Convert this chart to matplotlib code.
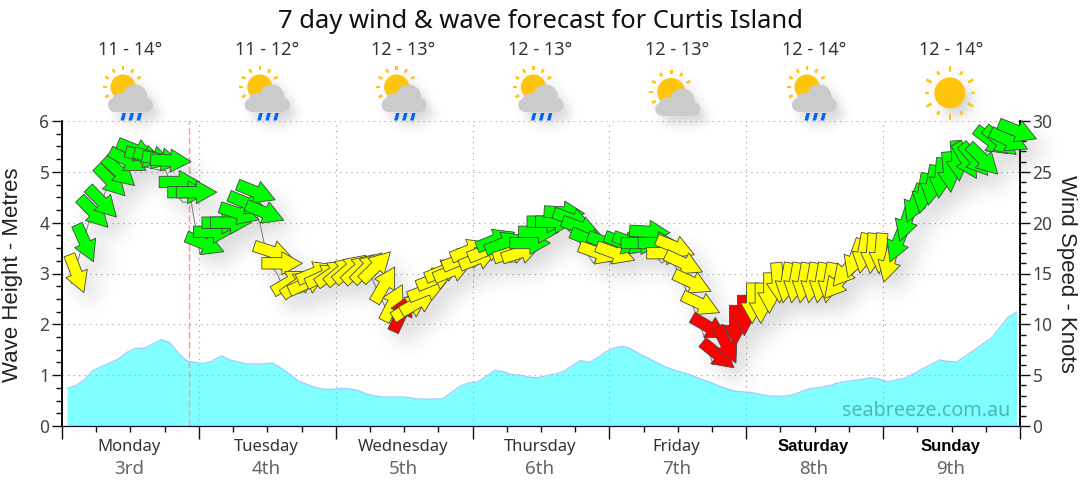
import numpy as np
import matplotlib
matplotlib.use('Agg')
import matplotlib.pyplot as plt
from matplotlib.collections import PathCollection, PatchCollection
from matplotlib.patches import Circle, Polygon, Rectangle
from matplotlib.path import Path
from matplotlib.ticker import MultipleLocator, NullFormatter
from matplotlib.transforms import Affine2D, IdentityTransform, blended_transform_factory

title = '7 day wind & wave forecast for Curtis Island'
days = ['Monday', 'Tuesday', 'Wednesday', 'Thursday', 'Friday', 'Saturday', 'Sunday']
dates = ['3rd', '4th', '5th', '6th', '7th', '8th', '9th']
temps = ['11 - 14°', '11 - 12°', '12 - 13°', '12 - 13°', '12 - 13°', '12 - 14°', '12 - 14°']
icons = ['rain', 'rain', 'rain', 'rain', 'cloud', 'rain', 'sun']
now_hour = 22.2

# wave height in metres, every 1.5 hours
wave_start = 0.9
wave = [0.74, 0.79, 0.91, 1.09, 1.17, 1.24, 1.32, 1.45, 1.53, 1.53, 1.61, 1.70, 1.64, 1.43, 1.28, 1.25,
        1.23, 1.28, 1.38, 1.30, 1.26, 1.22, 1.22, 1.22, 1.24, 1.14, 1.02, 0.89, 0.82, 0.76, 0.72, 0.72,
        0.74, 0.73, 0.70, 0.63, 0.59, 0.57, 0.57, 0.57, 0.56, 0.53, 0.53, 0.53, 0.54, 0.67, 0.79, 0.85,
        0.87, 0.98, 1.09, 1.07, 1.01, 1.00, 0.96, 0.95, 0.99, 1.02, 1.07, 1.18, 1.29, 1.25, 1.34, 1.46,
        1.54, 1.57, 1.51, 1.41, 1.33, 1.24, 1.16, 1.10, 1.05, 1.00, 0.93, 0.87, 0.80, 0.74, 0.69, 0.67,
        0.66, 0.62, 0.59, 0.585, 0.59, 0.62, 0.69, 0.74, 0.76, 0.79, 0.84, 0.875, 0.90, 0.92, 0.95, 0.92,
        0.87, 0.91, 0.94, 1.03, 1.125, 1.21, 1.30, 1.27, 1.26, 1.37, 1.49, 1.61, 1.72, 1.93, 2.14, 2.24]

# wind speed in knots, every 1.5 hours
wind_start = 2.55
wind = [15.0, 18.0, 21.0, 22.0, 24.1, 25.0, 26.1, 27.1, 26.5, 26.4, 26.2, 26.1, 24.0, 23.0, 23.0, 17.9,
        19.1, 20.0, 20.0, 20.9, 21.9, 23.0, 21.0, 17.1, 16.0, 14.2, 14.0, 14.1, 15.1, 14.8, 15.1, 15.3,
        15.5, 15.5, 15.6, 15.7, 13.9, 12.1, 11.1, 11.7, 12.2, 13.4, 14.5, 15.3, 15.3, 16.4, 17.3, 16.5,
        17.3, 18.3, 18.0, 17.1, 17.1, 18.0, 19.1, 20.1, 20.1, 21.0, 20.3, 19.5, 18.3, 17.0, 18.0, 17.0,
        18.0, 18.0, 18.0, 19.1, 18.0, 17.0, 17.6, 16.0, 14.1, 12.0, 9.7, 7.0, 8.0, 9.9, 10.9, 12.1,
        12.1, 13.1, 14.1, 14.1, 14.1, 14.1, 14.1, 14.1, 14.1, 14.1, 15.3, 16.5, 17.0, 17.0, 17.0, 16.1,
        18.0, 20.1, 21.9, 22.9, 23.7, 24.4, 25.0, 26.1, 26.1, 26.2, 26.2, 28.0, 28.0, 28.1, 29.0]

# arrow heading on screen in degrees, 0 points right, 90 points up
heading = [-69, -66, -46, -46, -46, -42, -28, -22, -15, -15, -10, -3, 0, 0, 0, -22,
           0, 0, 0, -18, -22, -22, -22, -18, 0, 30, 35, 25, 22, 25, 35, 40,
           40, 42, 45, 45, 60, 63, 65, 32, 30, 22, 22, 22, 22, 22, 22, 22,
           22, 22, 22, 18, 18, 0, 0, 0, 0, -3, -20, -20, -22, -20, -20, -20,
           -20, -20, 0, -3, 0, 0, -22, -25, -25, -25, -30, -39, -63, -90, -88, -90,
           -90, -90, -85, -100, -100, -100, -100, -100, -100, -130, -130, -110, -100, -95, -95, -105,
           -112, -108, -112, -100, -100, -95, -85, -85, -60, -50, -45, -37, -40, -25, -22]

# Y yellow, G green, R red
strength = ('YGGGGGGGGGGGGGGGGGGGGGG' 'YYYYYYYYYYYYYYY' 'R' 'YYYYYYYYYY' 'GG' 'YY' 'GGGGGGGG'
            'Y' 'G' 'Y' 'GGGGG' 'YYYYY' 'RRRRR' 'YYYYYYYYYYYYYYYYY' 'GGGGGGGGGGGGGGG')
arrow_colors = {'Y': '#ffff00', 'G': '#00ff00', 'R': '#ff0000'}


def soft_shadow(strength_alpha, sigma):
    # agg filter: keep only the blurred alpha of whatever was drawn
    radius = int(3 * sigma)
    steps = np.arange(-radius, radius + 1)
    weights = np.exp(-steps ** 2 / (2.0 * sigma ** 2))
    weights = weights / weights.sum()

    def run(im, dpi):
        alpha = np.pad(im[:, :, 3], radius)
        for axis in (0, 1):
            alpha = sum(w * np.roll(alpha, s, axis) for s, w in zip(steps, weights))
        out = np.zeros(alpha.shape + (4,))
        out[:, :, :3] = 0.25
        out[:, :, 3] = np.clip(alpha * strength_alpha, 0, 1)
        return out, -radius, -radius
    return run


plt.rcParams['font.family'] = ['Noto Sans', 'DejaVu Sans']

fig = plt.figure(figsize=(10.8, 4.9), dpi=100)
ov = fig.add_axes([0, 0, 1, 1])
ov.set_xlim(0, 1080)
ov.set_ylim(490, 0)
ov.axis('off')

ax = fig.add_axes([62 / 1080, 1 - 426 / 490, 958 / 1080, 305 / 490])
ax.patch.set_alpha(0)
ax.set_xlim(0, 168)
ax.set_ylim(0, 6)
ax2 = ax.twinx()
ax2.set_ylim(0, 30)

# waves
wave_hours = wave_start + 1.5 * np.arange(len(wave))
ax.fill_between(wave_hours, wave, color='#00ffff', alpha=0.5, lw=0, zorder=1)
ax.plot(wave_hours, wave, color='#99ccff', lw=0.9, zorder=2)

# grid and axes
ax.set_xticks(np.arange(0, 169, 24))
ax.xaxis.set_minor_locator(MultipleLocator(6))
ax.xaxis.set_major_formatter(NullFormatter())
ax.yaxis.set_major_locator(MultipleLocator(1))
ax.yaxis.set_minor_locator(MultipleLocator(0.25))
ax2.yaxis.set_major_locator(MultipleLocator(5))
ax2.yaxis.set_minor_locator(MultipleLocator(1))
ax.grid(True, which='major', color='#999999', lw=0.8, ls=(0, (1, 4)), zorder=0)
ax.set_axisbelow(True)
ax.tick_params(axis='x', which='major', length=9, width=1, color='#111111', labelbottom=False)
ax.tick_params(axis='x', which='minor', length=4, width=1, color='#111111')
for a in (ax, ax2):
    a.tick_params(axis='y', which='major', length=7, width=1, color='#111111', labelsize=12.5,
                  labelcolor='#444444', pad=2)
    a.tick_params(axis='y', which='minor', length=4, width=1, color='#111111')
    a.spines['top'].set_visible(False)
    a.spines['bottom'].set_color('#000033')
    a.spines['left'].set_linewidth(1.1)
    a.spines['right'].set_linewidth(1.1)
ax.axvline(now_hour, color='#ff9999', lw=1, ls=(0, (5, 2)), zorder=2)

# wind arrows, fixed size in pixels and rotated one by one
arrow = Path([(-20, -5.7), (0, -5.7), (0, -11.5), (20.5, 0), (0, 11.5), (0, 5.7), (-20, 5.7), (-20, -5.7)],
             closed=True)
wind_hours = wind_start + 1.5 * np.arange(len(wind))
points = np.column_stack([wind_hours, wind])
paths = [Affine2D().rotate_deg(h).transform_path(arrow) for h in heading]
faces = [arrow_colors[s] for s in strength]

shadow = PathCollection(paths, offsets=points, offset_transform=ax2.transData + Affine2D().translate(10, -12),
                        facecolors='#000000', edgecolors='none')
shadow.set_transform(IdentityTransform())
shadow.set_agg_filter(soft_shadow(0.45, 7))
ax2.add_collection(shadow, autolim=False)
shadow.set_clip_on(False)
shadow.set_zorder(3)

ax2.plot(wind_hours, wind, color='#777777', lw=0.7, zorder=4, clip_on=False,
         transform=ax2.transData + Affine2D().translate(-5, -10))

arrows = PathCollection(paths, offsets=points, offset_transform=ax2.transData,
                        facecolors=faces, edgecolors='#444444', linewidths=0.6)
arrows.set_transform(IdentityTransform())
ax2.add_collection(arrows, autolim=False)
arrows.set_clip_on(False)
arrows.set_zorder(5)


# weather icons in pixel coordinates of the overlay
def ray(cx, cy, angle, r0, r1, half):
    a = np.radians(angle)
    ux, uy = np.cos(a), -np.sin(a)
    nx, ny = -uy * half, ux * half
    return Polygon([(cx + ux * r0 + nx, cy + uy * r0 + ny), (cx + ux * r1 + nx, cy + uy * r1 + ny),
                    (cx + ux * r1 - nx, cy + uy * r1 - ny), (cx + ux * r0 - nx, cy + uy * r0 - ny)])


def draw_icon(x, kind):
    yellow, grey, blue = [], [], []
    if kind == 'sun':
        cy = 93
        yellow.append(Circle((x - 1, cy), 15.5))
        for k in range(12):
            r1 = 27 if k % 2 == 0 else 25
            yellow.append(ray(x - 1, cy, 90 + 30 * k, 21, r1, 1.3))
    else:
        sx, sy, sr = (x - 7, 87, 12.5) if kind == 'rain' else (x - 6, 92, 14)
        dy = 0 if kind == 'rain' else 4
        yellow.append(Circle((sx, sy), sr))
        for ang in [30, 60, 90, 120, 150, 180, 210]:
            yellow.append(ray(sx, sy, ang, sr + 4, sr + 8, 1.3))
        grey.append(Circle((x + 5, 97 + dy), 12.5))
        grey.append(Circle((x - 10, 101 + dy), 8))
        grey.append(Circle((x + 16, 105 + dy), 7))
        grey.append(Circle((x - 15, 105 + dy), 7))
        grey.append(Rectangle((x - 15, 100 + dy), 31, 12))
        if kind == 'rain':
            for dx in (-8, 0, 8):
                blue.append(Polygon([(x + dx + 0.5, 113), (x + dx + 4, 113), (x + dx + 2, 120.5), (x + dx - 1.5, 120.5)]))
    back = PatchCollection(yellow + grey + blue, facecolor='#000000', edgecolor='none')
    back.set_transform(ov.transData + Affine2D().translate(7, -8))
    back.set_agg_filter(soft_shadow(0.2, 5))
    ov.add_collection(back, autolim=False)
    for patches, col in ((yellow, '#ffc40c'), (grey, '#cbcbcb'), (blue, '#0066ff')):
        ov.add_collection(PatchCollection(patches, facecolor=col, edgecolor='none'), autolim=False)


day_x = blended_transform_factory(ax.transData, fig.transFigure)
for i in range(7):
    hour = 11.8 + 24 * i
    if days[i] in ('Saturday', 'Sunday'):
        fig.text(hour, 1 - 447 / 490, days[i], transform=day_x, ha='center', va='center', fontsize=12,
                 color='#000000', weight='bold', family='Liberation Sans')
    else:
        fig.text(hour, 1 - 447 / 490, days[i], transform=day_x, ha='center', va='center', fontsize=12, color='#333333')
    fig.text(hour, 1 - 469 / 490, dates[i], transform=day_x, ha='center', va='center', fontsize=13.5, color='#666666')
    icon_px = 130 + 136.8 * i
    ov.text(icon_px, 50, temps[i], ha='center', va='center', fontsize=13, color='#333333')
    draw_icon(icon_px, icons[i])

ov.text(540, 21, title, ha='center', va='center', fontsize=18.4, color='#111111')
fig.text(1010 / 1080, 1 - 411 / 490, 'seabreeze.com.au', ha='right', va='center', fontsize=14.2, color='#4db8b8')
ov.text(13, 275, 'Wave Height - Metres', rotation=90, ha='center', va='center', fontsize=16,
        family='Liberation Sans', color='#222222')
ov.text(1066, 274, 'Wind Speed - Knots', rotation=270, ha='center', va='center', fontsize=16,
        family='Liberation Sans', color='#222222')

fig.savefig('out.png', dpi=100)
